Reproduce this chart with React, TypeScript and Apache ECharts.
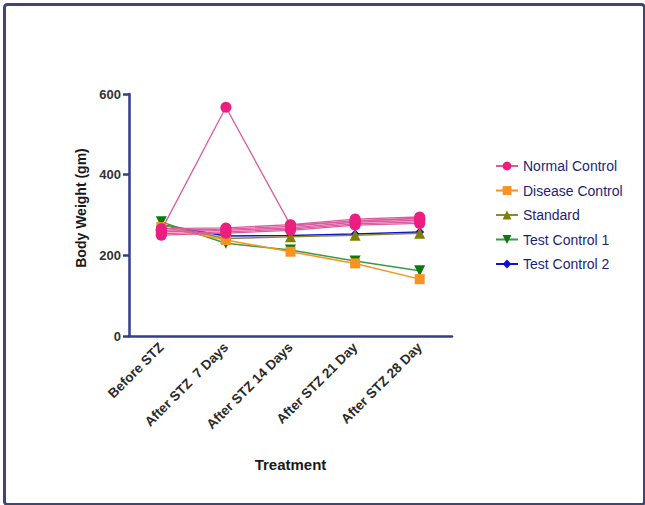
import React, { useEffect, useRef } from "react";
import * as echarts from "echarts";

const categories = ["Before STZ", "After STZ  7 Days", "After STZ 14 Days", "After STZ 21 Day", "After STZ 28 Day"];
const yTicks = [0, 200, 400, 600];

const normalControl1 = [262, 567, 275, 285, 292];
const normalControl2 = [250, 255, 262, 275, 279];
const normalControl3 = [254, 258, 265, 278, 283];
const normalControl4 = [258, 262, 268, 282, 287];
const normalControl5 = [262, 265, 272, 286, 291];
const normalControl6 = [266, 268, 276, 290, 295];
const diseaseControl = [270, 238, 209, 180, 141];
const standard = [276, 242, 246, 250, 255];
const testControl1 = [283, 230, 213, 186, 162];
const testControl2 = [276, 248, 249, 253, 258];

const PINK = "#ec1e80";
const PINK_LINE = "#dc5aa0";
const ORANGE = "#f7931e";
const OLIVE = "#808000";
const GREEN = "#0b7a0b";
const GREEN_LINE = "#3a9a45";
const BLUE = "#1010d0";
const AXIS = "#343c8c";
const FONT = "Liberation Sans, Arial, sans-serif";

export default function App() {
  const ref = useRef<HTMLDivElement>(null);
  useEffect(() => {
    const chart = echarts.init(ref.current!, null, { renderer: "svg" });
    const pinkSeries = [normalControl1, normalControl2, normalControl3, normalControl4, normalControl5, normalControl6].map((d) => ({
      name: "Normal Control",
      type: "line",
      data: d,
      symbol: "circle",
      symbolSize: 11,
      z: 5,
      itemStyle: { color: PINK },
      lineStyle: { color: PINK_LINE, width: 1.3 },
    }));
    const mk = (name: string, data: number[], symbol: string, size: number, color: string, lineColor: string, z: number, rotate = 0) => ({
      name,
      type: "line",
      data,
      symbol,
      symbolSize: size,
      symbolRotate: rotate,
      z,
      itemStyle: { color },
      lineStyle: { color: lineColor, width: 1.5 },
    });
    chart.setOption({
      animation: false,
      backgroundColor: "#ffffff",
      graphic: [
        {
          type: "rect",
          left: 2,
          top: 2,
          shape: { width: 640, height: 500, r: 3 },
          style: { fill: "none", stroke: "#3f4577", lineWidth: 3 },
          silent: true,
        },
      ],
      legend: {
        left: 490,
        top: 154,
        orient: "vertical",
        itemWidth: 22,
        itemHeight: 11,
        itemGap: 10.5,
        data: ["Normal Control", "Disease Control", "Standard", "Test Control 1", "Test Control 2"],
        textStyle: { color: "#1e1e78", fontSize: 14, fontFamily: FONT },
      },
      grid: { left: 129, right: 193, top: 94, bottom: 169, containLabel: false },
      xAxis: {
        type: "category",
        data: categories,
        boundaryGap: true,
        name: "Treatment",
        nameLocation: "middle",
        nameGap: 121,
        nameTextStyle: { fontSize: 15, fontWeight: "bold", color: "#1a1a1a", fontFamily: FONT },
        axisLine: { lineStyle: { color: AXIS, width: 2.5 } },
        axisTick: { alignWithLabel: true, length: 6, lineStyle: { color: AXIS, width: 2.5 } },
        axisLabel: { rotate: 45, margin: 9, fontSize: 13.5, fontWeight: "bold", color: "#2a2a2a", fontFamily: FONT, interval: 0 },
      },
      yAxis: {
        type: "value",
        min: 0,
        max: 600,
        interval: 200,
        name: "Body Weight (gm)",
        nameLocation: "middle",
        nameGap: 41,
        nameTextStyle: { fontSize: 14, fontWeight: "bold", color: "#1a1a1a", padding: [0, 0, 0, 14], fontFamily: FONT },
        axisLine: { show: true, lineStyle: { color: AXIS, width: 2.5 } },
        axisTick: { show: true, length: 6, lineStyle: { color: AXIS, width: 2.5 } },
        axisLabel: { margin: 8, fontSize: 13, fontWeight: "bold", color: "#333333", fontFamily: FONT, customValues: yTicks },
        splitLine: { show: false },
      },
      series: [
        mk("Test Control 2", testControl2, "diamond", 9, BLUE, BLUE, 1),
        mk("Standard", standard, "triangle", 11, OLIVE, "#8a8a30", 2),
        mk("Test Control 1", testControl1, "triangle", 11, GREEN, GREEN_LINE, 3, 180),
        mk("Disease Control", diseaseControl, "rect", 10, ORANGE, ORANGE, 4),
        ...pinkSeries,
      ],
    });
    return () => chart.dispose();
  }, []);
  return <div ref={ref} style={{ position: "fixed", left: 0, top: 0, width: 645, height: 505 }} />;
}
